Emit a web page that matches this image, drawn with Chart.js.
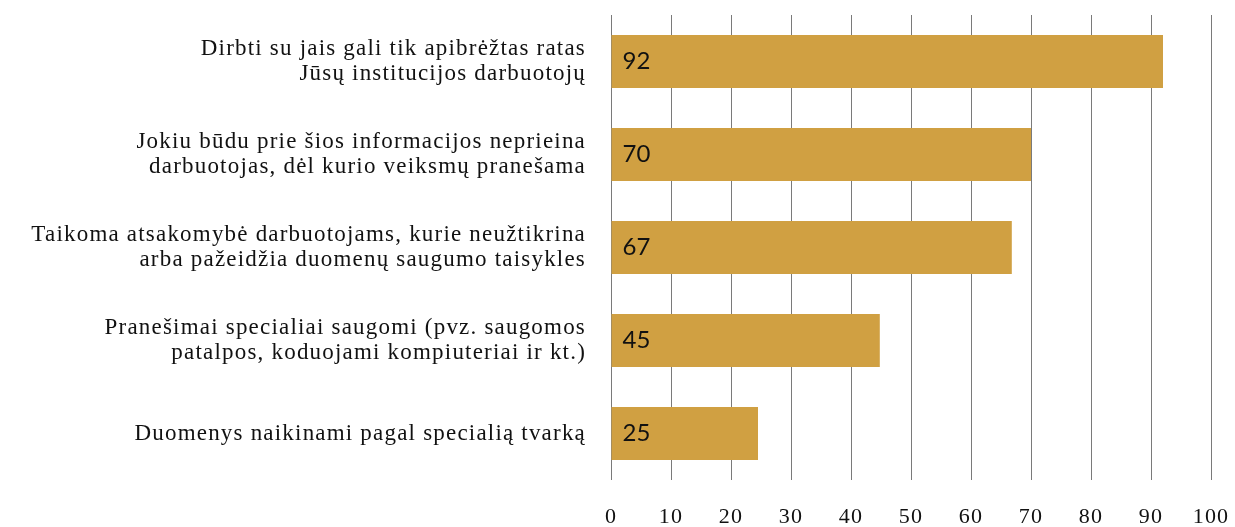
<!DOCTYPE html>
<html><head><meta charset="utf-8">
<script src="https://cdn.jsdelivr.net/npm/chart.js@4/dist/chart.umd.min.js"></script>
<style>html,body{margin:0;padding:0;background:#fff}#wrap{width:1235px;height:527px}</style>
</head><body><div id="wrap"><canvas id="c" width="1235" height="527"></canvas></div>
<script>
const categories = [
  ["Dirbti su jais gali tik apibrėžtas ratas", "Jūsų institucijos darbuotojų"],
  ["Jokiu būdu prie šios informacijos neprieina", "darbuotojas, dėl kurio veiksmų pranešama"],
  ["Taikoma atsakomybė darbuotojams, kurie neužtikrina", "arba pažeidžia duomenų saugumo taisykles"],
  ["Pranešimai specialiai saugomi (pvz. saugomos", "patalpos, koduojami kompiuteriai ir kt.)"],
  ["Duomenys naikinami pagal specialią tvarką"]
];
const values = [92, 70, 66.8, 44.8, 24.5];
const valueLabels = ["92", "70", "67", "45", "25"];
const xTicks = [0, 10, 20, 30, 40, 50, 60, 70, 80, 90, 100];

const spacingPlugin = {
  id: 'spacing',
  beforeDraw(chart) { chart.ctx.letterSpacing = '1.2px'; },
  beforeDatasetsDraw(chart) { chart.ctx.letterSpacing = '0px'; }
};

const dataLabelPlugin = {
  id: 'dl',
  afterDatasetsDraw(chart) {
    const ctx = chart.ctx;
    const meta = chart.getDatasetMeta(0);
    ctx.save();
    ctx.letterSpacing = '0px';
    ctx.font = '24px Lato';
    ctx.fillStyle = '#111';
    ctx.textBaseline = 'middle';
    ctx.textAlign = 'left';
    meta.data.forEach((bar, i) => {
      ctx.fillText(valueLabels[i], bar.base + 11, bar.y);
    });
    ctx.restore();
  }
};

function noPad(scale) {
  scale.paddingLeft = 0; scale.paddingRight = 0;
  scale.paddingTop = 0; scale.paddingBottom = 0;
}

new Chart(document.getElementById('c'), {
  type: 'bar',
  data: {
    labels: categories,
    datasets: [{
      data: values,
      backgroundColor: '#D0A042',
      borderWidth: 0,
      categoryPercentage: 1,
      barPercentage: 0.57
    }]
  },
  options: {
    indexAxis: 'y',
    responsive: false,
    animation: false,
    layout: { padding: { top: 15, right: 24, left: 0, bottom: 0 } },
    plugins: { legend: { display: false }, tooltip: { enabled: false } },
    scales: {
      x: {
        min: 0, max: 100,
        afterBuildTicks(scale) { scale.ticks = xTicks.map(v => ({ value: v })); },
        afterFit(scale) { scale.height = 47; noPad(scale); },
        border: { display: false },
        grid: { color: '#7a7a7a', lineWidth: 1, drawTicks: false },
        ticks: { color: '#111', padding: 24, font: { family: 'Liberation Serif', size: 22 } }
      },
      y: {
        afterFit(scale) { scale.width = 611; noPad(scale); },
        border: { display: false },
        grid: { display: false, drawTicks: false },
        ticks: { color: '#111', padding: 25, font: { family: 'Liberation Serif', size: 23, lineHeight: 1.09 } }
      }
    }
  },
  plugins: [spacingPlugin, dataLabelPlugin]
});
</script></body></html>
